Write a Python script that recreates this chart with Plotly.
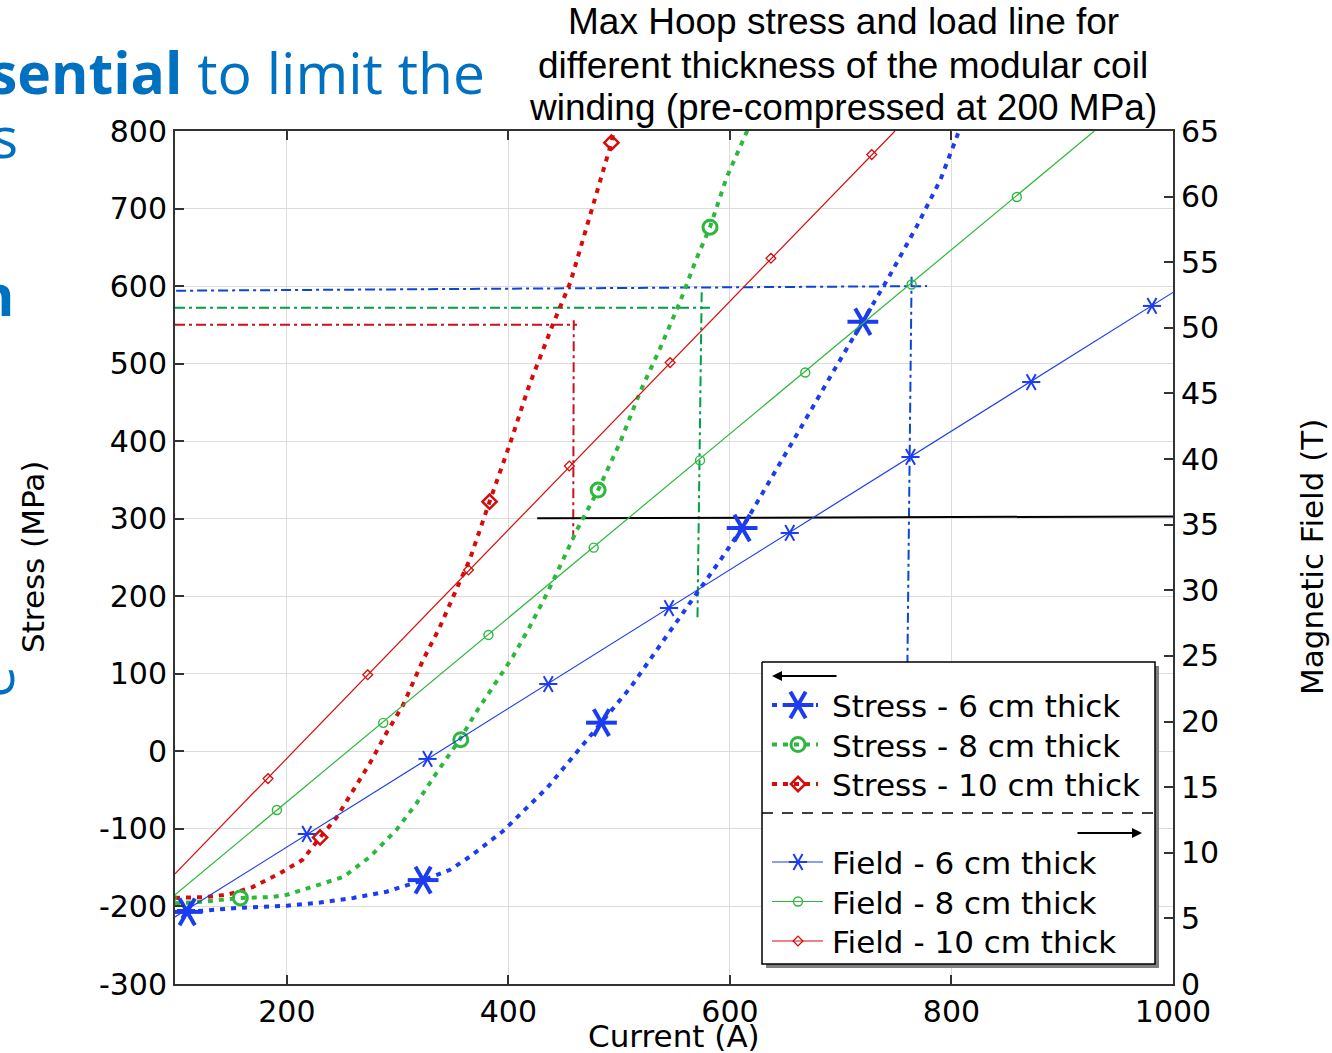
import plotly.graph_objects as go

# ---------------- data ----------------
# Stress curves (left axis, MPa) vs current (A)
stress6_I = [110, 155, 200, 230, 260, 290, 323, 347, 365, 395, 435, 465, 484, 510, 539, 564, 591, 611, 633, 663, 693, 720, 744, 769, 790, 806, 813]
stress6_S = [-207, -202, -199, -195, -189, -181, -166, -153, -136, -103, -47, 4, 37, 82, 141, 191, 246, 288, 341, 415, 489, 554, 613, 678, 737, 797, 820]
stress6_mI = [110, 323, 484, 611, 720]
stress6_mS = [-207, -166, 37, 288, 554]

stress8_I = [99, 124, 158, 185, 200, 221, 251, 275, 299, 317, 335, 356, 372, 386, 404, 419, 435, 449, 462, 481, 501, 519, 537, 555, 570, 582, 597, 614, 620]
stress8_S = [-196, -194, -189, -188, -185, -176, -162, -136, -101, -67, -28, 15, 53, 83, 122, 160, 204, 246, 286, 337, 399, 464, 520, 580, 636, 676, 740, 795, 815]
stress8_mI = [158, 357, 481, 582]
stress8_mS = [-189, 15, 337, 676]

stress10_I = [99, 124, 146, 169, 194, 214, 230, 245, 260, 275, 290, 305, 323, 338, 354, 365, 383, 401, 419, 440, 456, 471, 483, 493, 497]
stress10_S = [-189, -188, -185, -175, -157, -140, -111, -85, -50, -15, 24, 60, 118, 160, 212, 247, 322, 395, 473, 550, 605, 679, 734, 785, 815]
stress10_mI = [230, 383, 493]
stress10_mS = [-111, 322, 785]

# Field lines (right axis, T) vs current (A)
field6_I = [99, 1000]
field6_B = [5.1, 52.7]
field6_mI = [109, 218, 327, 436, 545, 654, 763, 872, 981]
field6_mB = [5.64, 11.43, 17.15, 22.86, 28.65, 34.37, 40.16, 45.87, 51.67]

field8_I = [99, 929]
field8_B = [6.8, 65.0]
field8_mI = [96, 191, 287, 382, 477, 573, 668, 764, 859]
field8_mB = [6.6, 13.26, 19.9, 26.6, 33.25, 39.9, 46.6, 53.3, 59.97]

field10_I = [99, 749]
field10_B = [8.4, 65.0]
field10_mI = [183, 273, 364, 455, 546, 637, 728]
field10_mB = [15.65, 23.56, 31.55, 39.47, 47.35, 55.3, 63.2]

# Load lines (left axis, MPa)
load6_h_I, load6_h_S = [100, 778], [594, 600]
load6_v_I, load6_v_S = [764, 760], [612, 83]
load8_h_I, load8_h_S = [99, 583], [572, 572]
load8_v_I, load8_v_S = [574.5, 570.7], [592, 173]
load10_h_I, load10_h_S = [99, 462], [550, 550]
load10_v_I, load10_v_S = [459, 458.5], [556, 269]
limit_I, limit_S = [426, 1000], [300.5, 303]

# Ticks
x_ticks = [200, 400, 600, 800, 1000]
y_ticks = [-300, -200, -100, 0, 100, 200, 300, 400, 500, 600, 700, 800]
y2_ticks = [0, 5, 10, 15, 20, 25, 30, 35, 40, 45, 50, 55, 60, 65]

legend_stress = ["Stress - 6 cm thick", "Stress - 8 cm thick", "Stress - 10 cm thick"]
legend_field = ["Field - 6 cm thick", "Field - 8 cm thick", "Field - 10 cm thick"]

title_lines = ["Max Hoop stress and load line for",
               "different thickness of the modular coil",
               "winding (pre-compressed at 200 MPa)"]

# ---------------- styles ----------------
BLUE = '#1c3cf0'
GREEN = '#2db83d'
RED = '#d80a0a'
BLUE_L = '#0a46d8'
GREEN_L = '#00a046'
RED_L = '#cc1020'
SLIDE = '#0070C0'
DOT = '5px,6px'
DASHDOT = '10px,4px,3px,4px'

W, H = 1332, 1053
ML, MR, MT, MB = 175, 159, 131, 69
PW = W - ML - MR
PH = H - MT - MB


def fx(px):
    return (px - ML) / PW


def fy(py):
    return (H - MB - py) / PH


fig = go.Figure()


def add_star(x, y, size, width, color, xa='x', ya='y'):
    for ang in (90, 30, -30):
        fig.add_trace(go.Scatter(
            x=x, y=y, xaxis=xa, yaxis=ya, mode='markers', hoverinfo='skip',
            marker=dict(symbol='line-ns-open', size=size, angle=ang, color=color,
                        line=dict(width=width, color=color))))


# field lines
for I, B, col in [(field6_I, field6_B, BLUE), (field8_I, field8_B, GREEN), (field10_I, field10_B, RED)]:
    fig.add_trace(go.Scatter(x=I, y=B, yaxis='y2', mode='lines', hoverinfo='skip',
                             line=dict(color=col, width=1.2)))
add_star(field6_mI, field6_mB, 13, 2, BLUE, ya='y2')
fig.add_trace(go.Scatter(x=field8_mI, y=field8_mB, yaxis='y2', mode='markers', hoverinfo='skip',
                         marker=dict(symbol='circle-open', size=9, color=GREEN,
                                     line=dict(width=1.4, color=GREEN))))
fig.add_trace(go.Scatter(x=field10_mI, y=field10_mB, yaxis='y2', mode='markers', hoverinfo='skip',
                         marker=dict(symbol='diamond-open', size=7.5, color=RED,
                                     line=dict(width=1.3, color=RED))))

# load lines
for I, S, col in [(load6_h_I, load6_h_S, BLUE_L), (load6_v_I, load6_v_S, BLUE_L),
                  (load8_h_I, load8_h_S, GREEN_L), (load8_v_I, load8_v_S, GREEN_L),
                  (load10_h_I, load10_h_S, RED_L), (load10_v_I, load10_v_S, RED_L)]:
    fig.add_trace(go.Scatter(x=I, y=S, mode='lines', hoverinfo='skip',
                             line=dict(color=col, width=2, dash=DASHDOT)))
fig.add_trace(go.Scatter(x=limit_I, y=limit_S, mode='lines', hoverinfo='skip',
                         line=dict(color='black', width=2)))

# stress curves
for I, S, col in [(stress6_I, stress6_S, BLUE), (stress8_I, stress8_S, GREEN), (stress10_I, stress10_S, RED)]:
    fig.add_trace(go.Scatter(x=I, y=S, mode='lines', hoverinfo='skip',
                             line=dict(color=col, width=4, dash=DOT)))
add_star(stress6_mI, stress6_mS, 22, 4, BLUE)
fig.add_trace(go.Scatter(x=stress8_mI, y=stress8_mS, mode='markers', hoverinfo='skip',
                         marker=dict(symbol='circle-open', size=14, color=GREEN,
                                     line=dict(width=3, color=GREEN))))
fig.add_trace(go.Scatter(x=stress10_mI, y=stress10_mS, mode='markers', hoverinfo='skip',
                         marker=dict(symbol='diamond-open', size=11, color=RED,
                                     line=dict(width=2.5, color=RED))))

# ---------------- custom legend (pixel coordinates on an overlay subplot) ----------------
LX0, LY0, LX1, LY1 = 762, 662, 1155, 964
SH = 4
fig.add_trace(go.Scatter(x=[LX0 + SH, LX1 + SH, LX1 + SH, LX0 + SH, LX0 + SH],
                         y=[LY0 + SH, LY0 + SH, LY1 + SH, LY1 + SH, LY0 + SH],
                         xaxis='x3', yaxis='y3', mode='lines', fill='toself', hoverinfo='skip',
                         fillcolor='#808080', line=dict(width=0, color='#808080')))
fig.add_trace(go.Scatter(x=[LX0, LX1, LX1, LX0, LX0], y=[LY0, LY0, LY1, LY1, LY0],
                         xaxis='x3', yaxis='y3', mode='lines', fill='toself', hoverinfo='skip',
                         fillcolor='white', line=dict(width=1.5, color='black')))
fig.add_trace(go.Scatter(x=[LX0, LX1], y=[813, 813], xaxis='x3', yaxis='y3', mode='lines',
                         hoverinfo='skip', line=dict(width=1.3, color='black', dash='11px,9px')))

row_s = [705, 744.5, 784]
row_f = [862, 901.5, 941]
cols = [BLUE, GREEN, RED]
for i in range(3):
    fig.add_trace(go.Scatter(x=[772, 818], y=[row_s[i], row_s[i]], xaxis='x3', yaxis='y3',
                             mode='lines', hoverinfo='skip',
                             line=dict(color=cols[i], width=4, dash=DOT)))
    fig.add_trace(go.Scatter(x=[772, 823], y=[row_f[i], row_f[i]], xaxis='x3', yaxis='y3',
                             mode='lines', hoverinfo='skip',
                             line=dict(color=cols[i], width=1.2)))
add_star([798], [row_s[0]], 22, 4, BLUE, 'x3', 'y3')
add_star([798], [row_f[0]], 13, 2, BLUE, 'x3', 'y3')
fig.add_trace(go.Scatter(x=[798], y=[row_s[1]], xaxis='x3', yaxis='y3', mode='markers', hoverinfo='skip',
                         marker=dict(symbol='circle-open', size=14, color=GREEN, line=dict(width=3, color=GREEN))))
fig.add_trace(go.Scatter(x=[798], y=[row_f[1]], xaxis='x3', yaxis='y3', mode='markers', hoverinfo='skip',
                         marker=dict(symbol='circle-open', size=9, color=GREEN, line=dict(width=1.4, color=GREEN))))
fig.add_trace(go.Scatter(x=[798], y=[row_s[2]], xaxis='x3', yaxis='y3', mode='markers', hoverinfo='skip',
                         marker=dict(symbol='diamond-open', size=11, color=RED, line=dict(width=2.5, color=RED))))
fig.add_trace(go.Scatter(x=[798], y=[row_f[2]], xaxis='x3', yaxis='y3', mode='markers', hoverinfo='skip',
                         marker=dict(symbol='diamond-open', size=7.5, color=RED, line=dict(width=1.3, color=RED))))

ann = []
for i in range(3):
    ann.append(dict(text=legend_stress[i], xref='paper', yref='paper', x=fx(830), y=fy(row_s[i] + 1),
                    xanchor='left', yanchor='middle', showarrow=False,
                    font=dict(family='DejaVu Sans', size=31, color='black')))
    ann.append(dict(text=legend_field[i], xref='paper', yref='paper', x=fx(830), y=fy(row_f[i] + 1),
                    xanchor='left', yanchor='middle', showarrow=False,
                    font=dict(family='DejaVu Sans', size=31, color='black')))
# arrows
ann.append(dict(text='', xref='paper', yref='paper', x=fx(772), y=fy(676), ax=66, ay=0,
                showarrow=True, arrowhead=2, arrowsize=1, arrowwidth=2, arrowcolor='black'))
ann.append(dict(text='', xref='paper', yref='paper', x=fx(1142), y=fy(833), ax=-66, ay=0,
                showarrow=True, arrowhead=2, arrowsize=1, arrowwidth=2, arrowcolor='black'))

# title
for i, t in enumerate(title_lines):
    ann.append(dict(text=t, xref='paper', yref='paper', x=fx(843), y=fy(22 + 43 * i),
                    xanchor='center', yanchor='middle', showarrow=False,
                    font=dict(family='Liberation Sans', size=37, color='black')))

# axis titles
ann.append(dict(text='Stress (MPa)', xref='paper', yref='paper', x=fx(33), y=fy(557),
                xanchor='center', yanchor='middle', textangle=-90, showarrow=False,
                font=dict(family='DejaVu Sans', size=31, color='black')))
ann.append(dict(text='Magnetic Field (T)', xref='paper', yref='paper', x=fx(1312), y=fy(557),
                xanchor='center', yanchor='middle', textangle=-90, showarrow=False,
                font=dict(family='DejaVu Sans', size=31, color='black')))
ann.append(dict(text='Current (A)', xref='paper', yref='paper', x=fx(674), y=fy(1036),
                xanchor='center', yanchor='middle', showarrow=False,
                font=dict(family='DejaVu Sans', size=31, color='black')))

# slide text fragments (cut off at the left edge)
ann.append(dict(text='<b>sential</b> to limit the', xref='paper', yref='paper', x=fx(487), y=fy(72),
                xanchor='right', yanchor='middle', showarrow=False,
                font=dict(family='Open Sans', size=57, color=SLIDE)))
ann.append(dict(text='s', xref='paper', yref='paper', x=fx(20), y=fy(136),
                xanchor='right', yanchor='middle', showarrow=False,
                font=dict(family='Open Sans', size=57, color=SLIDE)))
ann.append(dict(text='<b>n</b>', xref='paper', yref='paper', x=fx(16), y=fy(294),
                xanchor='right', yanchor='middle', showarrow=False,
                font=dict(family='Open Sans', size=57, color=SLIDE)))
ann.append(dict(text='e', xref='paper', yref='paper', x=fx(-8), y=fy(682),
                xanchor='center', yanchor='middle', textangle=-90, showarrow=False,
                font=dict(family='Open Sans', size=57, color=SLIDE)))

axis_common = dict(ticks='inside', ticklen=9, tickwidth=1.5, tickcolor='#333333',
                   showline=True, linewidth=2, linecolor='#333333', zeroline=False,
                   tickfont=dict(family='DejaVu Sans', size=30, color='black'))

fig.update_layout(
    width=W, height=H, margin=dict(l=ML, r=MR, t=MT, b=MB, pad=0, autoexpand=False),
    plot_bgcolor='rgba(0,0,0,0)', paper_bgcolor='white', showlegend=False,
    font=dict(family='DejaVu Sans', size=30, color='black'),
    xaxis=dict(range=[99, 1000], tickvals=x_ticks, ticktext=[str(v) for v in x_ticks],
               mirror='ticks', showgrid=True, gridcolor='#dcdcdc', gridwidth=1, **axis_common),
    yaxis=dict(range=[-300, 800], tickvals=y_ticks, ticktext=[str(v) for v in y_ticks],
               showgrid=True, gridcolor='#dcdcdc', gridwidth=1, **axis_common),
    yaxis2=dict(range=[0, 65], overlaying='y', side='right', tickvals=y2_ticks,
                ticktext=[str(v) for v in y2_ticks], showgrid=False, **axis_common),
    xaxis3=dict(domain=[0, 1], anchor='y3', range=[ML, ML + PW], visible=False, fixedrange=True),
    yaxis3=dict(domain=[0, 1], anchor='x3', range=[H - MB, MT], visible=False, fixedrange=True),
    annotations=ann,
)

fig.write_html("out.html", config={'displayModeBar': False},
               post_script="document.body.style.margin='0px';")
